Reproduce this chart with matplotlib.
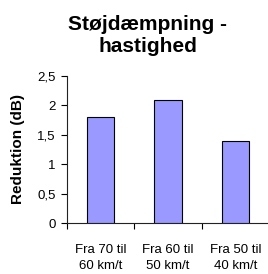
import matplotlib
matplotlib.use("Agg")
import matplotlib.pyplot as plt
import numpy as np

categories = ["Fra 70 til\n60 km/t", "Fra 60 til\n50 km/t", "Fra 50 til\n40 km/t"]
values = [1.8, 2.1, 1.4]
yticks = [0, 0.5, 1, 1.5, 2, 2.5]
ytick_labels = ["0", "0,5", "1", "1,5", "2", "2,5"]

plt.rcParams['font.family'] = ['Liberation Sans', 'DejaVu Sans']

fig = plt.figure(figsize=(2.68, 2.74), dpi=100)
W, H = 268, 274
ax = fig.add_axes([67 / W, 1 - 223 / H, (269 - 67) / W, (223 - 76) / H])

x = np.arange(len(categories))
ax.bar(x, values, width=0.41, color="#9999FF", edgecolor="black", linewidth=0.8, zorder=3)

ax.set_xlim(-0.5, len(categories) - 0.5)
ax.set_ylim(0, 2.5)
ax.set_yticks(yticks)
ax.set_yticklabels(ytick_labels, fontsize=9.5)
ax.set_xticks(np.arange(-0.5, len(categories), 1.0))
ax.set_xticklabels([])
ax.set_xticks(x, minor=True)
ax.set_xticklabels(categories, minor=True, fontsize=9.5, linespacing=1.45)
ax.tick_params(axis='x', which='minor', length=0, pad=15)
ax.tick_params(axis='x', which='major', length=4, direction='out', width=0.8)
ax.tick_params(axis='y', length=4, direction='out', width=0.8, pad=4)

for s in ['top', 'right']:
    ax.spines[s].set_visible(False)
for s in ['left', 'bottom']:
    ax.spines[s].set_linewidth(0.8)
    ax.spines[s].set_color('#222222')

ax.set_ylabel("Reduktion (dB)", fontsize=11, fontweight='bold', labelpad=9)
fig.text(148 / W, 1 - 35.5 / H, "Støjdæmpning -\nhastighed", ha='center', va='center',
         fontsize=15, fontweight='bold', linespacing=1.25)

fig.savefig("out.png", dpi=100)
